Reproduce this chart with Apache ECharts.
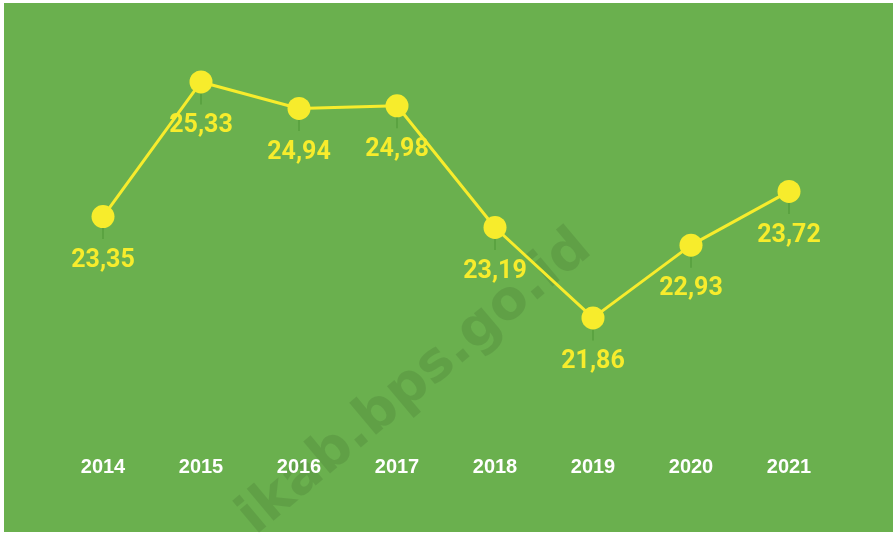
<!DOCTYPE html>
<html>
<head>
<meta charset="utf-8">
<script src="https://cdn.jsdelivr.net/npm/echarts@6/dist/echarts.min.js"></script>
<style>
  html, body { margin: 0; padding: 0; background: #fff; }
  #chart { width: 895px; height: 533px; }
</style>
</head>
<body>
<div id="chart"></div>
<script>
const years = ['2014', '2015', '2016', '2017', '2018', '2019', '2020', '2021'];
const values = [23.35, 25.33, 24.94, 24.98, 23.19, 21.86, 22.93, 23.72];

const yellow = '#f7ec2c';
const green = '#6ab04e';

const chart = echarts.init(document.getElementById('chart'));

chart.setOption({
  backgroundColor: '#ffffff',
  animation: false,
  graphic: [
    {
      type: 'rect',
      z: -10,
      silent: true,
      shape: { x: 4, y: 3, width: 889, height: 529 },
      style: { fill: green }
    },
    {
      // watermark
      type: 'text',
      z: -5,
      silent: true,
      x: 264,
      y: 546,
      rotation: 40 * Math.PI / 180,
      style: {
        text: 'ikab.bps.go.id',
        font: 'bold 55px "DejaVu Sans"',
        fill: 'rgba(0, 0, 0, 0.09)',
        textAlign: 'left',
        textVerticalAlign: 'bottom'
      }
    }
  ],
  grid: { left: 54, right: 57, top: 36.4, bottom: 88.6 },
  xAxis: {
    type: 'category',
    data: years,
    axisLine: { show: false },
    axisTick: { show: false },
    axisLabel: {
      color: '#ffffff',
      fontFamily: '"Liberation Sans", Arial, sans-serif',
      fontWeight: 'bold',
      fontSize: 20,
      margin: 13
    }
  },
  yAxis: {
    type: 'value',
    min: 20,
    max: 26,
    show: false
  },
  series: [
    {
      // small tick under each point
      type: 'scatter',
      data: values,
      symbol: 'rect',
      symbolSize: [2, 11],
      symbolOffset: [0, 17],
      itemStyle: { color: '#57a03f' },
      z: 1,
      silent: true
    },
    {
      type: 'line',
      data: values,
      symbol: 'circle',
      symbolSize: 23,
      lineStyle: { color: yellow, width: 3 },
      itemStyle: { color: yellow },
      z: 3,
      label: {
        show: true,
        position: 'bottom',
        distance: 20,
        color: yellow,
        fontFamily: 'Roboto, sans-serif',
        fontWeight: 'bold',
        fontSize: 25,
        formatter: p => p.value.toFixed(2).replace('.', ',')
      }
    }
  ]
});
</script>
</body>
</html>
